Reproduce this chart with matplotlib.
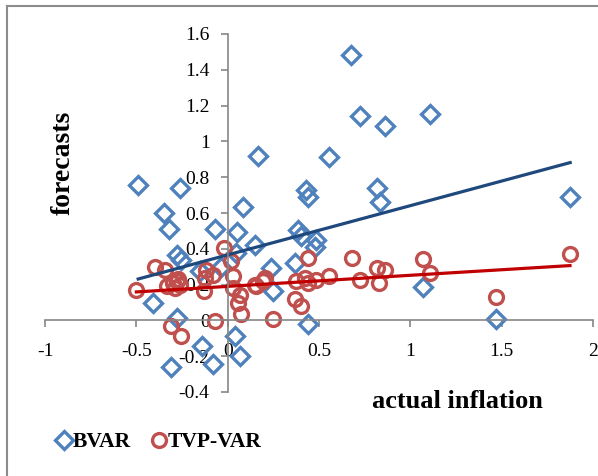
import numpy as np
import matplotlib
matplotlib.use("Agg")
import matplotlib.pyplot as plt
from matplotlib.lines import Line2D

plt.rcParams["font.family"] = ["Liberation Serif", "DejaVu Serif"]
plt.rcParams["axes.unicode_minus"] = False

# actual inflation vs forecasts, BVAR model
bvar_actual = [-0.49, -0.263, -0.349, -0.32, -0.071, 0.084, 0.051, 0.164, 0.677, 0.725,
               0.86, 1.105, 0.555, 0.427, 0.442, 0.815, 0.833, 1.875, 0.385, 0.404,
               0.486, 0.477, 0.148, 0.367, 0.239, 0.248, -0.28, -0.254, -0.41, -0.28,
               -0.31, -0.139, -0.08, 0.038, 0.066, -0.153, -0.035, 0.44, 1.067, 1.468,
               0.045]
bvar_forecast = [0.755, 0.74, 0.60, 0.51, 0.51, 0.635, 0.496, 0.92, 1.485, 1.14,
                 1.087, 1.154, 0.913, 0.73, 0.69, 0.74, 0.661, 0.69, 0.506, 0.47,
                 0.45, 0.41, 0.42, 0.32, 0.29, 0.163, 0.367, 0.34, 0.10, 0.015,
                 -0.263, -0.143, -0.244, -0.087, -0.198, 0.274, 0.30, -0.022, 0.187, 0.009,
                 0.375]

# actual inflation vs forecasts, TVP-VAR model
tvp_actual = [1.874, 1.468, 1.067, 1.107, 0.678, 0.723, 0.815, 0.86, 0.83, 0.555,
              0.486, 0.44, 0.44, 0.404, 0.367, 0.376, 0.422, 0.148, 0.203, 0.248,
              -0.02, 0.02, -0.117, -0.126, -0.40, -0.345, -0.5, -0.131, 0.029, 0.066,
              0.056, 0.075, -0.071, -0.308, -0.254, -0.08, 0.029, 0.193, 0.157, -0.33,
              -0.30, -0.28, -0.26, -0.29, -0.27]
tvp_forecast = [0.37, 0.13, 0.343, 0.265, 0.348, 0.228, 0.293, 0.28, 0.21, 0.25,
                0.228, 0.348, 0.21, 0.08, 0.117, 0.218, 0.237, 0.2, 0.237, 0.006,
                0.404, 0.33, 0.283, 0.237, 0.30, 0.283, 0.172, 0.163, 0.18, 0.144,
                0.098, 0.033, -0.004, -0.031, -0.087, 0.255, 0.246, 0.218, 0.19, 0.19,
                0.21, 0.22, 0.20, 0.18, 0.23]

# linear trend (slope, intercept)
bvar_trend = (0.275, 0.366)
tvp_trend = (0.062, 0.19)

x_ticks = [-1, -0.5, 0, 0.5, 1, 1.5, 2]
x_tick_labels = ["-1", "-0.5", "0", "0.5", "1", "1.5", "2"]
y_ticks = [-0.4, -0.2, 0, 0.2, 0.4, 0.6, 0.8, 1, 1.2, 1.4, 1.6]
y_tick_labels = ["-0.4", "-0.2", "0", "0.2", "0.4", "0.6", "0.8", "1", "1.2", "1.4", "1.6"]

W, H = 598, 476
fig = plt.figure(figsize=(W / 100, H / 100), dpi=100)
ax = fig.add_axes([45 / W, 1 - 392 / H, (593 - 45) / W, (392 - 34) / H])

blue = "#4F81BD"
red = "#C0504D"
grey = "#868686"

ax.plot(bvar_actual, bvar_forecast, linestyle="none", marker="D", ms=9,
        mfc="none", mec=blue, mew=2.4, label="BVAR")
ax.plot(tvp_actual, tvp_forecast, linestyle="none", marker="o", ms=10,
        mfc="none", mec=red, mew=2.4, label="TVP-VAR")

xb = np.array([min(bvar_actual), max(bvar_actual)])
ax.plot(xb, bvar_trend[0] * xb + bvar_trend[1], color="#1F497D", lw=2.3)
xt = np.array([min(tvp_actual), max(tvp_actual)])
ax.plot(xt, tvp_trend[0] * xt + tvp_trend[1], color="#C00000", lw=2.3)

ax.set_xlim(-1, 2)
ax.set_ylim(-0.4, 1.6)
ax.set_xticks(x_ticks, x_tick_labels)
ax.set_yticks(y_ticks, y_tick_labels)

for side in ["top", "right"]:
    ax.spines[side].set_visible(False)
ax.spines["left"].set_position(("data", 0))
ax.spines["bottom"].set_position(("data", 0))
for side in ["left", "bottom"]:
    ax.spines[side].set_color(grey)
    ax.spines[side].set_linewidth(1.2)
ax.tick_params(axis="both", direction="out", length=5, width=1.2, color=grey,
               labelsize=14, labelcolor="black")
ax.tick_params(axis="y", pad=8)
ax.tick_params(axis="x", pad=11)

fig.text(63 / W, 1 - 163 / H, "forecasts", rotation=90, ha="center", va="center",
         fontsize=20, fontweight="bold")
fig.text(457 / W, 1 - 401 / H, "actual inflation", ha="center", va="center",
         fontsize=19, fontweight="bold")

fig.legend(loc="center left", bbox_to_anchor=(45 / W, 1 - 442 / H), ncol=2,
           frameon=False, handlelength=1.0, handletextpad=-0.1, columnspacing=0.8,
           prop={"size": 15.5, "weight": "bold"}, borderaxespad=0)

# outer chart border
fig.add_artist(Line2D([7 / W, 7 / W], [0, 1 - 6 / H], transform=fig.transFigure,
                      color="#8c8c8c", lw=1.5))
fig.add_artist(Line2D([7 / W, 1], [1 - 6 / H, 1 - 6 / H], transform=fig.transFigure,
                      color="#8c8c8c", lw=1.5))

fig.savefig("out.png", dpi=100)
